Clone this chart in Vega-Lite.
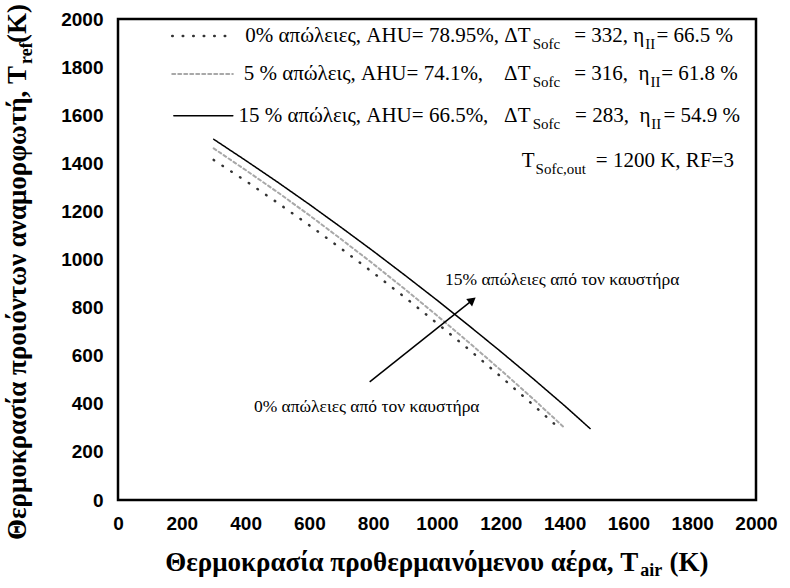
{
  "$schema": "https://vega.github.io/schema/vega-lite/v6.json",
  "width": 638,
  "height": 481,
  "autosize": {"type": "none"},
  "padding": {"left": 118, "top": 19, "right": 34, "bottom": 88},
  "background": "white",
  "config": {"view": {"stroke": "black", "strokeWidth": 2.5}},
  "datasets": {
    "curves": [
      {"series": "0%", "x": 300, "y": 1414}, {"series": "0%", "x": 400, "y": 1327}, {"series": "0%", "x": 500, "y": 1236},
      {"series": "0%", "x": 600, "y": 1142}, {"series": "0%", "x": 700, "y": 1045}, {"series": "0%", "x": 800, "y": 945},
      {"series": "0%", "x": 900, "y": 842}, {"series": "0%", "x": 1000, "y": 735}, {"series": "0%", "x": 1100, "y": 626},
      {"series": "0%", "x": 1200, "y": 513}, {"series": "0%", "x": 1300, "y": 397}, {"series": "0%", "x": 1380, "y": 302},
      {"series": "5%", "x": 300, "y": 1462}, {"series": "5%", "x": 400, "y": 1372}, {"series": "5%", "x": 500, "y": 1280},
      {"series": "5%", "x": 600, "y": 1184}, {"series": "5%", "x": 700, "y": 1084}, {"series": "5%", "x": 800, "y": 982},
      {"series": "5%", "x": 900, "y": 876}, {"series": "5%", "x": 1000, "y": 767}, {"series": "5%", "x": 1100, "y": 655},
      {"series": "5%", "x": 1200, "y": 540}, {"series": "5%", "x": 1300, "y": 422}, {"series": "5%", "x": 1395, "y": 306},
      {"series": "15%", "x": 300, "y": 1500}, {"series": "15%", "x": 400, "y": 1412}, {"series": "15%", "x": 500, "y": 1322},
      {"series": "15%", "x": 600, "y": 1229}, {"series": "15%", "x": 700, "y": 1133}, {"series": "15%", "x": 800, "y": 1035},
      {"series": "15%", "x": 900, "y": 934}, {"series": "15%", "x": 1000, "y": 831}, {"series": "15%", "x": 1100, "y": 725},
      {"series": "15%", "x": 1200, "y": 617}, {"series": "15%", "x": 1300, "y": 506}, {"series": "15%", "x": 1400, "y": 392},
      {"series": "15%", "x": 1480, "y": 297}
    ],
    "majorTicks": [
      {"v": 0}, {"v": 200}, {"v": 400}, {"v": 600}, {"v": 800}, {"v": 1000}, {"v": 1200}, {"v": 1400}, {"v": 1600}, {"v": 1800}, {"v": 2000}
    ],
    "minorTicks": [
      {"v": 100}, {"v": 300}, {"v": 500}, {"v": 700}, {"v": 900}, {"v": 1100}, {"v": 1300}, {"v": 1500}, {"v": 1700}, {"v": 1900}
    ],
    "legendSymbols": [
      {"series": "0%", "x": 170, "y": 1929}, {"series": "0%", "x": 360, "y": 1929},
      {"series": "5%", "x": 170, "y": 1771}, {"series": "5%", "x": 360, "y": 1771},
      {"series": "15%", "x": 175, "y": 1598}, {"series": "15%", "x": 360, "y": 1598}
    ],
    "legendText": [
      {"text": "0% απώλειες, AHU= 78.95%, ΔT", "x": 1293, "y": 1929, "piece": "head"},
      {"text": "Sofc", "x": 1300, "y": 1896, "piece": "sub"},
      {"text": "= 332, η", "x": 1650, "y": 1929, "piece": "head"},
      {"text": "II", "x": 1653, "y": 1896, "piece": "sub"},
      {"text": "= 66.5 %", "x": 1688, "y": 1929, "piece": "tail"},
      {"text": "5 % απώλεις, AHU= 74.1%,\u00a0\u00a0\u00a0\u00a0ΔT", "x": 1293, "y": 1771, "piece": "head"},
      {"text": "Sofc", "x": 1300, "y": 1738, "piece": "sub"},
      {"text": "= 316,\u00a0\u00a0η", "x": 1666, "y": 1771, "piece": "head"},
      {"text": "II", "x": 1669, "y": 1738, "piece": "sub"},
      {"text": "= 61.8 %", "x": 1703, "y": 1771, "piece": "tail"},
      {"text": "15 % απώλεις, AHU= 66.5%,\u00a0\u00a0\u00a0ΔT", "x": 1293, "y": 1598, "piece": "head"},
      {"text": "Sofc", "x": 1300, "y": 1565, "piece": "sub"},
      {"text": "= 283,\u00a0\u00a0η", "x": 1669, "y": 1598, "piece": "head"},
      {"text": "II", "x": 1672, "y": 1565, "piece": "sub"},
      {"text": "= 54.9 %", "x": 1710, "y": 1598, "piece": "tail"},
      {"text": "T", "x": 1306, "y": 1410, "piece": "head"},
      {"text": "Sofc,out", "x": 1309, "y": 1377, "piece": "sub"},
      {"text": "= 1200 K, RF=3", "x": 1498, "y": 1410, "piece": "tail"}
    ],
    "notes": [
      {"text": "15% απώλειες από τον καυστήρα", "x": 1025, "y": 915},
      {"text": "0% απώλειες από τον καυστήρα", "x": 426, "y": 387}
    ],
    "arrow": [{"x": 789, "y": 491, "x2": 1115, "y2": 835}],
    "arrowHead": [{"x": 1111, "y": 831}],
    "xTitle": [
      {"text": "Θερμοκρασία προθερμαινόμενου αέρα, T", "x": 1631, "y": -262, "piece": "head"},
      {"text": "air", "x": 1637, "y": -295, "piece": "sub"},
      {"text": "(K)", "x": 1729, "y": -262, "piece": "tail"}
    ],
    "yTitle": [
      {"text": "Θερμοκρασία προιόντων αναμορφωτή, T", "x": -315, "y": 1805, "piece": "head"},
      {"text": "ref", "x": -285, "y": 1813, "piece": "sub"},
      {"text": "(K)", "x": -315, "y": 1900, "piece": "tail"}
    ]
  },
  "encoding": {
    "x": {
      "field": "x", "type": "quantitative",
      "scale": {"domain": [0, 2000], "nice": false, "zero": false},
      "axis": {
        "title": null, "grid": false, "domain": false, "ticks": false, "tickSize": 0,
        "values": [0,200,400,600,800,1000,1200,1400,1600,1800,2000],
        "format": "d",
        "labelFont": "Liberation Sans", "labelFontWeight": "bold", "labelFontSize": 19, "labelColor": "black",
        "labelPadding": 14, "labelFlush": false, "labelOverlap": false
      }
    },
    "y": {
      "field": "y", "type": "quantitative",
      "scale": {"domain": [0, 2000], "nice": false, "zero": false},
      "axis": {
        "title": null, "grid": false, "domain": false, "ticks": false, "tickSize": 0,
        "values": [0,200,400,600,800,1000,1200,1400,1600,1800,2000],
        "format": "d",
        "labelFont": "Liberation Sans", "labelFontWeight": "bold", "labelFontSize": 19, "labelColor": "black",
        "labelPadding": 15, "labelFlush": false, "labelOverlap": false
      }
    }
  },
  "layer": [
    {
      "data": {"name": "curves"},
      "mark": {"type": "line", "strokeCap": "round"},
      "encoding": {
        "color": {"field": "series", "type": "nominal", "scale": {"domain": ["0%", "5%", "15%"], "range": ["#333333", "#a8a8a8", "#000000"]}, "legend": null},
        "strokeDash": {"field": "series", "type": "nominal", "scale": {"domain": ["0%", "5%", "15%"], "range": [[0.5, 10], [3, 3], [1, 0]]}, "legend": null},
        "size": {"field": "series", "type": "nominal", "scale": {"domain": ["0%", "5%", "15%"], "range": [2.5, 1.5, 2]}, "legend": null},
        "order": {"field": "x", "type": "quantitative"}
      }
    },
    {
      "data": {"name": "legendSymbols"},
      "mark": {"type": "line", "strokeCap": "round"},
      "encoding": {
        "color": {"field": "series", "type": "nominal", "legend": null},
        "strokeDash": {"field": "series", "type": "nominal", "legend": null},
        "size": {"field": "series", "type": "nominal", "legend": null},
        "order": {"field": "x", "type": "quantitative"}
      }
    },
    {
      "data": {"name": "arrow"},
      "mark": {"type": "rule", "color": "black", "strokeWidth": 1.5},
      "encoding": {"x2": {"field": "x2"}, "y2": {"field": "y2"}}
    },
    {
      "data": {"name": "arrowHead"},
      "mark": {"type": "point", "shape": "triangle-up", "filled": true, "color": "black", "opacity": 1, "size": 90, "angle": 52},
      "encoding": {}
    },
    {
      "data": {"name": "legendText"},
      "transform": [{"filter": "datum.piece === 'head'"}],
      "mark": {"type": "text", "align": "right", "baseline": "middle", "font": "Liberation Serif", "fontSize": 21, "color": "black"},
      "encoding": {"text": {"field": "text"}}
    },
    {
      "data": {"name": "legendText"},
      "transform": [{"filter": "datum.piece === 'tail'"}],
      "mark": {"type": "text", "align": "left", "baseline": "middle", "font": "Liberation Serif", "fontSize": 21, "color": "black"},
      "encoding": {"text": {"field": "text"}}
    },
    {
      "data": {"name": "legendText"},
      "transform": [{"filter": "datum.piece === 'sub'"}],
      "mark": {"type": "text", "align": "left", "baseline": "middle", "font": "Liberation Serif", "fontSize": 15, "color": "black"},
      "encoding": {"text": {"field": "text"}}
    },
    {
      "data": {"name": "notes"},
      "mark": {"type": "text", "align": "left", "baseline": "middle", "font": "Liberation Serif", "fontSize": 17.5, "color": "black"},
      "encoding": {"text": {"field": "text"}}
    },
    {
      "data": {"name": "xTitle"},
      "transform": [{"filter": "datum.piece === 'head'"}],
      "mark": {"type": "text", "align": "right", "baseline": "middle", "font": "Liberation Serif", "fontWeight": "bold", "fontSize": 27, "color": "black"},
      "encoding": {"text": {"field": "text"}}
    },
    {
      "data": {"name": "xTitle"},
      "transform": [{"filter": "datum.piece === 'tail'"}],
      "mark": {"type": "text", "align": "left", "baseline": "middle", "font": "Liberation Serif", "fontWeight": "bold", "fontSize": 27, "color": "black"},
      "encoding": {"text": {"field": "text"}}
    },
    {
      "data": {"name": "xTitle"},
      "transform": [{"filter": "datum.piece === 'sub'"}],
      "mark": {"type": "text", "align": "left", "baseline": "middle", "font": "Liberation Serif", "fontWeight": "bold", "fontSize": 18, "color": "black"},
      "encoding": {"text": {"field": "text"}}
    },
    {
      "data": {"name": "yTitle"},
      "transform": [{"filter": "datum.piece === 'head'"}],
      "mark": {"type": "text", "angle": 270, "align": "right", "baseline": "middle", "font": "Liberation Serif", "fontWeight": "bold", "fontSize": 27, "color": "black"},
      "encoding": {"text": {"field": "text"}}
    },
    {
      "data": {"name": "yTitle"},
      "transform": [{"filter": "datum.piece === 'tail'"}],
      "mark": {"type": "text", "angle": 270, "align": "left", "baseline": "middle", "font": "Liberation Serif", "fontWeight": "bold", "fontSize": 27, "color": "black"},
      "encoding": {"text": {"field": "text"}}
    },
    {
      "data": {"name": "yTitle"},
      "transform": [{"filter": "datum.piece === 'sub'"}],
      "mark": {"type": "text", "angle": 270, "align": "left", "baseline": "middle", "font": "Liberation Serif", "fontWeight": "bold", "fontSize": 18, "color": "black"},
      "encoding": {"text": {"field": "text"}}
    },
    {
      "data": {"name": "majorTicks"},
      "mark": {"type": "rule", "color": "black", "strokeWidth": 2},
      "encoding": {"x": {"field": "v", "type": "quantitative"}, "y": {"datum": 0}, "y2": {"datum": 33}}
    },
    {
      "data": {"name": "majorTicks"},
      "mark": {"type": "rule", "color": "black", "strokeWidth": 2},
      "encoding": {"y": {"field": "v", "type": "quantitative"}, "x": {"datum": 0}, "x2": {"datum": 25}}
    },
    {
      "data": {"name": "minorTicks"},
      "mark": {"type": "rule", "color": "black", "strokeWidth": 1.5},
      "encoding": {"x": {"field": "v", "type": "quantitative"}, "y": {"datum": 0}, "y2": {"datum": 13}}
    },
    {
      "data": {"name": "minorTicks"},
      "mark": {"type": "rule", "color": "black", "strokeWidth": 1.5},
      "encoding": {"y": {"field": "v", "type": "quantitative"}, "x": {"datum": 0}, "x2": {"datum": 10}}
    }
  ]
}
